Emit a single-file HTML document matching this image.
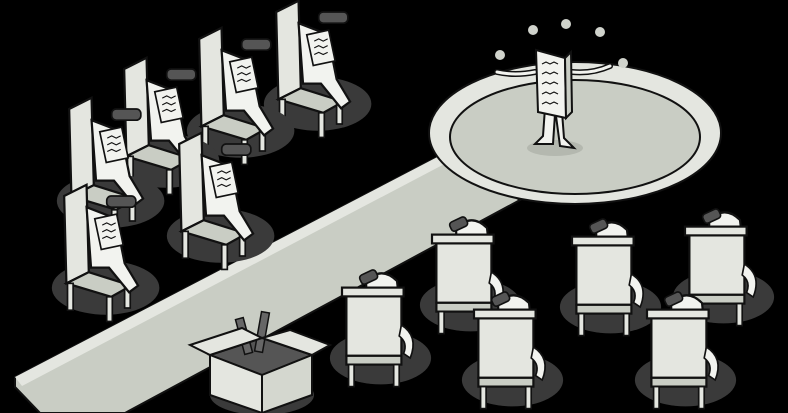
<!DOCTYPE html>
<html><head><style>html,body{margin:0;padding:0;background:#000;}svg{display:block}</style></head>
<body>
<svg width="788" height="413" viewBox="0 0 788 413" xmlns="http://www.w3.org/2000/svg">
<defs>
<g id="fchair">
  <ellipse cx="5" cy="32" rx="48" ry="24" fill="#3a3a3a"/>
  <polygon points="-32,-50 -12,-60 -10,18 -30,28" fill="#e4e6e0" stroke="#111" stroke-width="2"/>
  <polygon points="-30,28 -10,18 28,30 10,40" fill="#c9cdc4" stroke="#111" stroke-width="2"/>
  <rect x="-29" y="28" width="5" height="24" fill="#e4e6e0" stroke="#111" stroke-width="1.5"/>
  <rect x="6" y="40" width="5" height="22" fill="#e4e6e0" stroke="#111" stroke-width="1.5"/>
  <rect x="22" y="30" width="5" height="20" fill="#e4e6e0" stroke="#111" stroke-width="1.5"/>
  <path d="M-12,-40 L14,-30 L22,10 L34,30 L26,36 L8,14 L-8,14 Z" fill="#f2f3ef" stroke="#111" stroke-width="2"/>
  <rect x="-2" y="-32" width="20" height="28" fill="#f2f3ef" stroke="#111" stroke-width="1.5" transform="rotate(-12 8 -18)"/>
  <path d="M2,-24 l4,-2 4,2 4,-2 M2,-18 l4,-2 4,2 4,-2 M2,-12 l4,-2 4,2 4,-2" stroke="#111" fill="none" stroke-width="1"/>
  <rect x="6" y="-50" width="26" height="10" rx="4" fill="#555" stroke="#111" stroke-width="1.5"/>
</g>
<g id="bchair">
  <ellipse cx="5" cy="30" rx="46" ry="24" fill="#3a3a3a"/>
  <path d="M-8,-40 q14,-14 28,0 l4,36 -32,0 z" fill="#f2f3ef" stroke="#111" stroke-width="2"/>
  <rect x="-14" y="-48" width="16" height="9" rx="3" fill="#555" stroke="#111" stroke-width="1.5" transform="rotate(-25 -6 -44)"/>
  <rect x="-26" y="-28" width="50" height="56" fill="#e4e6e0" stroke="#111" stroke-width="2"/>
  <rect x="-30" y="-34" width="56" height="8" fill="#e4e6e0" stroke="#111" stroke-width="2"/>
  <rect x="-26" y="28" width="50" height="8" fill="#c9cdc4" stroke="#111" stroke-width="2"/>
  <rect x="-24" y="36" width="5" height="20" fill="#e4e6e0" stroke="#111" stroke-width="1.5"/>
  <rect x="17" y="36" width="5" height="20" fill="#e4e6e0" stroke="#111" stroke-width="1.5"/>
  <path d="M24,0 q16,10 8,30 l-6,-4 q4,-10 -4,-16z" fill="#f2f3ef" stroke="#111" stroke-width="1.5"/>
</g>
</defs>

<polygon points="15,377 445,153 520,200 125,413 40,413 15,387" fill="#c9cdc4" stroke="#111" stroke-width="2"/>
<polygon points="15,377 445,153 452,160 22,386" fill="#e4e6e0"/>

<ellipse cx="575" cy="133" rx="146" ry="71" fill="#e4e6e0" stroke="#111" stroke-width="2"/>
<ellipse cx="575" cy="137" rx="125" ry="57" fill="#c9cdc4" stroke="#111" stroke-width="2"/>
<ellipse cx="555" cy="148" rx="28" ry="8" fill="#b4b8af"/>
<path d="M545,108 l-2,28 -8,8 18,0 2,-30 M562,112 l2,26 10,10 -14,-2 -4,-30" fill="#f2f3ef" stroke="#111" stroke-width="2"/>
<path d="M535,72 q-20,4 -38,0 M572,72 q20,2 38,-6" stroke="#111" stroke-width="6" fill="none" stroke-linecap="round"/>
<path d="M535,72 q-20,4 -38,0 M572,72 q20,2 38,-6" stroke="#f2f3ef" stroke-width="3" fill="none" stroke-linecap="round"/>
<polygon points="536,50 565,58 566,118 538,112" fill="#f2f3ef" stroke="#111" stroke-width="2"/>
<polygon points="565,58 571,52 572,112 566,118" fill="#c9cdc4" stroke="#111" stroke-width="2"/>
<path d="M542,64 l4,-2 4,2 4,-2 4,2 M542,74 l4,-2 4,2 4,-2 4,2 M542,84 l4,-2 4,2 4,-2 4,2 M542,94 l4,-2 4,2 4,-2 4,2 M542,104 l4,-2 4,2 4,-2 4,2" stroke="#111" fill="none" stroke-width="1.2"/>
<circle cx="500" cy="55" r="5" fill="#d0d3cc"/>
<circle cx="533" cy="30" r="5" fill="#d0d3cc"/>
<circle cx="566" cy="24" r="5" fill="#d0d3cc"/>
<circle cx="600" cy="32" r="5" fill="#d0d3cc"/>
<circle cx="623" cy="63" r="5" fill="#d0d3cc"/>

<use href="#fchair" transform="translate(312,68) scale(1.12)"/>
<use href="#fchair" transform="translate(235,95) scale(1.12)"/>
<use href="#fchair" transform="translate(160,125) scale(1.12)"/>
<use href="#fchair" transform="translate(105,165) scale(1.12)"/>
<use href="#fchair" transform="translate(215,200) scale(1.12)"/>
<use href="#fchair" transform="translate(100,252) scale(1.12)"/>

<ellipse cx="262" cy="395" rx="52" ry="20" fill="#3a3a3a"/>
<polygon points="210,355 262,338 312,355 262,375" fill="#555" stroke="#111" stroke-width="2"/>
<rect x="240" y="318" width="8" height="36" fill="#666" stroke="#111" stroke-width="1.5" transform="rotate(-15 244 336)"/>
<rect x="258" y="312" width="8" height="40" fill="#666" stroke="#111" stroke-width="1.5" transform="rotate(10 262 332)"/>
<polygon points="210,355 262,375 262,413 210,395" fill="#e4e6e0" stroke="#111" stroke-width="2"/>
<polygon points="262,375 312,355 312,395 262,413" fill="#d4d7cf" stroke="#111" stroke-width="2"/>
<polygon points="210,355 190,345 242,328 262,338" fill="#e4e6e0" stroke="#111" stroke-width="2"/>
<polygon points="312,355 330,345 290,330 262,338" fill="#e4e6e0" stroke="#111" stroke-width="2"/>

<use href="#bchair" transform="translate(465,272) scale(1.1)"/>
<use href="#bchair" transform="translate(375,325) scale(1.1)"/>
<use href="#bchair" transform="translate(605,274) scale(1.1)"/>
<use href="#bchair" transform="translate(718,264) scale(1.1)"/>
<use href="#bchair" transform="translate(507,347) scale(1.1)"/>
<use href="#bchair" transform="translate(680,347) scale(1.1)"/>
</svg>
</body></html>
